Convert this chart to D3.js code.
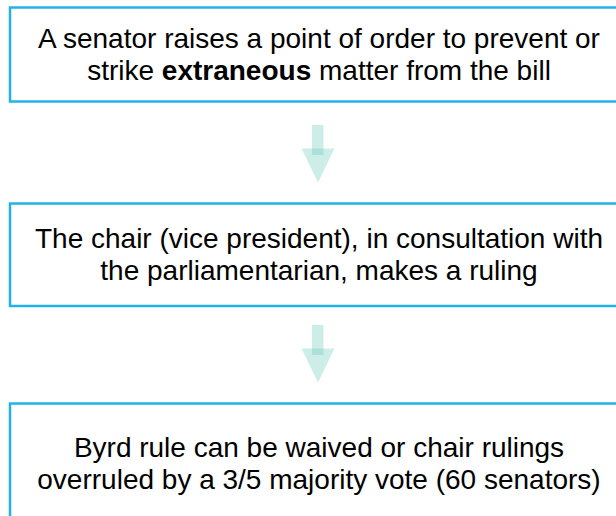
<!DOCTYPE html>
<html><head><meta charset="utf-8">
<script src="https://cdn.jsdelivr.net/npm/d3@7"></script>
<style>html,body{margin:0;padding:0;background:#fff;}svg{display:block;}</style>
</head><body>
<svg id="c" width="616" height="516"></svg>
<script>
// Flow steps: each line is a list of [text, isBold] segments
const step1 = [
  [["A senator raises a point of order to prevent or", false]],
  [["strike ", false], ["extraneous", true], [" matter from the bill", false]]
];
const step2 = [
  [["The chair (vice president), in consultation with", false]],
  [["the parliamentarian, makes a ruling", false]]
];
const step3 = [
  [["Byrd rule can be waived or chair rulings", false]],
  [["overruled by a 3/5 majority vote (60 senators)", false]]
];
const steps = [step1, step2, step3];

// layout
const boxX = 10, boxW = 618;
const boxTop = [7.5, 203.5, 403.5];
const boxH = [94, 102.5, 120];
const fontSize = 28, lineGap = 32;
const stroke = "#22b2e7";
const arrowFill = "rgb(100,200,182)";

const svg = d3.select("#c");
const cx = d3.scaleLinear().domain([0, 1]).range([boxX, boxX + boxW]);
const midX = 318;

steps.forEach((lines, i) => {
  const g = svg.append("g");
  g.append("rect")
    .attr("x", boxX).attr("y", boxTop[i])
    .attr("width", boxW).attr("height", boxH[i])
    .attr("fill", "#fff").attr("stroke", stroke).attr("stroke-width", 2.5);
  const center = boxTop[i] + boxH[i] / 2;
  const firstBase = center - 7;
  lines.forEach((segs, j) => {
    const t = g.append("text")
      .attr("x", cx(0.5))
      .attr("y", firstBase + j * lineGap)
      .attr("text-anchor", "middle")
      .attr("font-family", "'Liberation Sans', Arial, sans-serif")
      .attr("font-size", fontSize)
      .attr("fill", "#000");
    segs.forEach(([txt, b]) => {
      t.append("tspan").attr("font-weight", b ? "bold" : "normal")
        .style("white-space", "pre").text(txt);
    });
  });
});

// arrows between boxes
for (let i = 0; i < steps.length - 1; i++) {
  const gapBot = boxTop[i + 1];
  const tip = gapBot - 21;
  const triTop = tip - 34;
  const shaftTop = triTop - 23.5;
  const ga = svg.append("g");
  ga.append("rect")
    .attr("x", midX - 6).attr("y", shaftTop)
    .attr("width", 11.5).attr("height", triTop - shaftTop + 6.5)
    .attr("fill", arrowFill).attr("fill-opacity", 0.32);
  ga.append("path")
    .attr("d", d3.line()([[midX - 16.5, triTop], [midX + 16.5, triTop], [midX, tip]]) + "Z")
    .attr("fill", arrowFill).attr("fill-opacity", 0.32);
}
</script>
</body></html>
